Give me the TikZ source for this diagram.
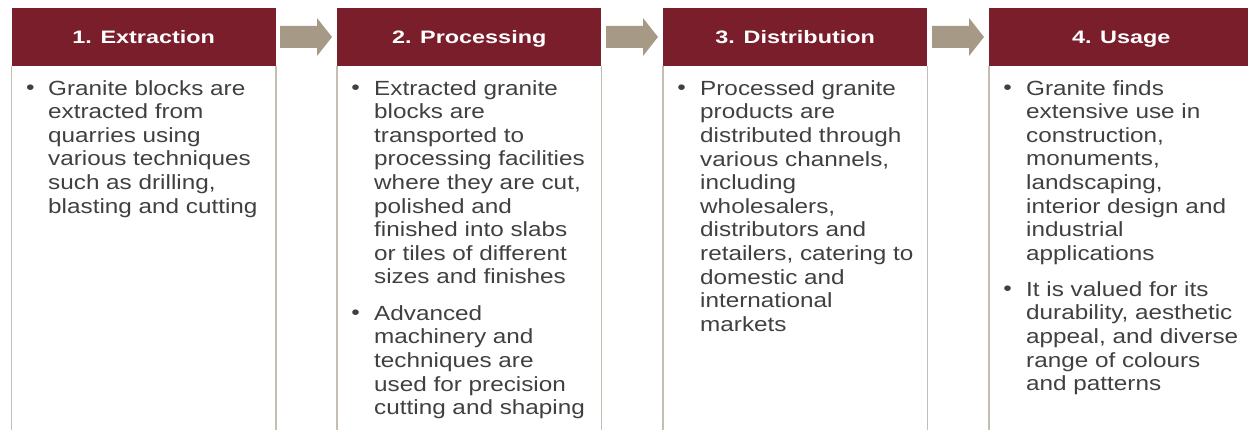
\documentclass[tikz,border=0pt]{standalone}
\usepackage{fontspec}
\setmainfont{Liberation Sans}
\newfontfamily\bodyfont[FakeStretch=1.185]{Liberation Sans}
\newfontfamily\headfont[FakeStretch=1.3]{Liberation Sans}
\definecolor{hdrred}{RGB}{123,30,43}
\definecolor{linegray}{RGB}{196,189,177}
\definecolor{arrtan}{RGB}{166,153,134}
\definecolor{txtgray}{RGB}{64,64,64}
\tikzset{
 hdr/.style={fill=hdrred, text=white, font=\headfont\bfseries\fontsize{18}{21}\selectfont,
   text height=13pt, text depth=1pt,
   minimum width=264pt, minimum height=58pt, inner sep=0pt, anchor=north west},
 colline/.style={draw=linegray, line width=1.4pt},
 bodytxt/.style={text=txtgray, font=\bodyfont\fontsize{20.5}{23.6}\selectfont, align=left, inner sep=0pt, anchor=north west},
 bul/.style={text=txtgray, font=\bodyfont\fontsize{20.5}{23.6}\selectfont, inner sep=0pt, anchor=base},
 flowarr/.style={fill=arrtan},
}
\begin{document}
\begin{tikzpicture}[x=1pt,y=-1pt]
\useasboundingbox (0,0) rectangle (1248,430);
% headers
\node[hdr] (h1) at (11.5,8) {1. Extraction};
\node[hdr] (h2) at (337,8) {2. Processing};
\node[hdr] (h3) at (663,8) {3. Distribution};
\node[hdr] (h4) at (989,8) {4. Usage};
% column lines
\foreach \h in {h1,h2,h3,h4}{
  \draw[colline] (\h.south west) -- ([yshift=-370pt]\h.south west);
  \draw[colline] (\h.south east) -- ([yshift=-370pt]\h.south east);
}
% arrows
\foreach \a in {280,606,932}{
  \fill[flowarr] (\a,26) -- (\a+37,26) -- (\a+37,18) -- (\a+52,37) -- (\a+37,56) -- (\a+37,48) -- (\a,48) -- cycle;
}
% column 1
\node[bul] (b1) at (30.5,95) {•};
\node[bodytxt] (t1) at (48,78.48) {\strut Granite blocks are\\extracted from\\quarries using\\various techniques\\such as drilling,\\blasting and cutting};
% column 2
\node[bul] (b2a) at (355.5,95) {•};
\node[bodytxt] (t2a) at (374,78.48) {\strut Extracted granite\\blocks are\\transported to\\processing facilities\\where they are cut,\\polished and\\finished into slabs\\or tiles of different\\sizes and finishes};
\node[bul] (b2b) at (355.5,320) {•};
\node[bodytxt] (t2b) at (374,303.48) {\strut Advanced\\machinery and\\techniques are\\used for precision\\cutting and shaping};
% column 3
\node[bul] (b3) at (681.5,95) {•};
\node[bodytxt] (t3) at (700,78.48) {\strut Processed granite\\products are\\distributed through\\various channels,\\including\\wholesalers,\\distributors and\\retailers, catering to\\domestic and\\international\\markets};
% column 4
\node[bul] (b4a) at (1007.5,95) {•};
\node[bodytxt] (t4a) at (1026,78.48) {\strut Granite finds\\extensive use in\\construction,\\monuments,\\landscaping,\\interior design and\\industrial\\applications};
\node[bul] (b4b) at (1007.5,296) {•};
\node[bodytxt] (t4b) at (1026,279.48) {\strut It is valued for its\\durability, aesthetic\\appeal, and diverse\\range of colours\\and patterns};
\end{tikzpicture}
\end{document}
